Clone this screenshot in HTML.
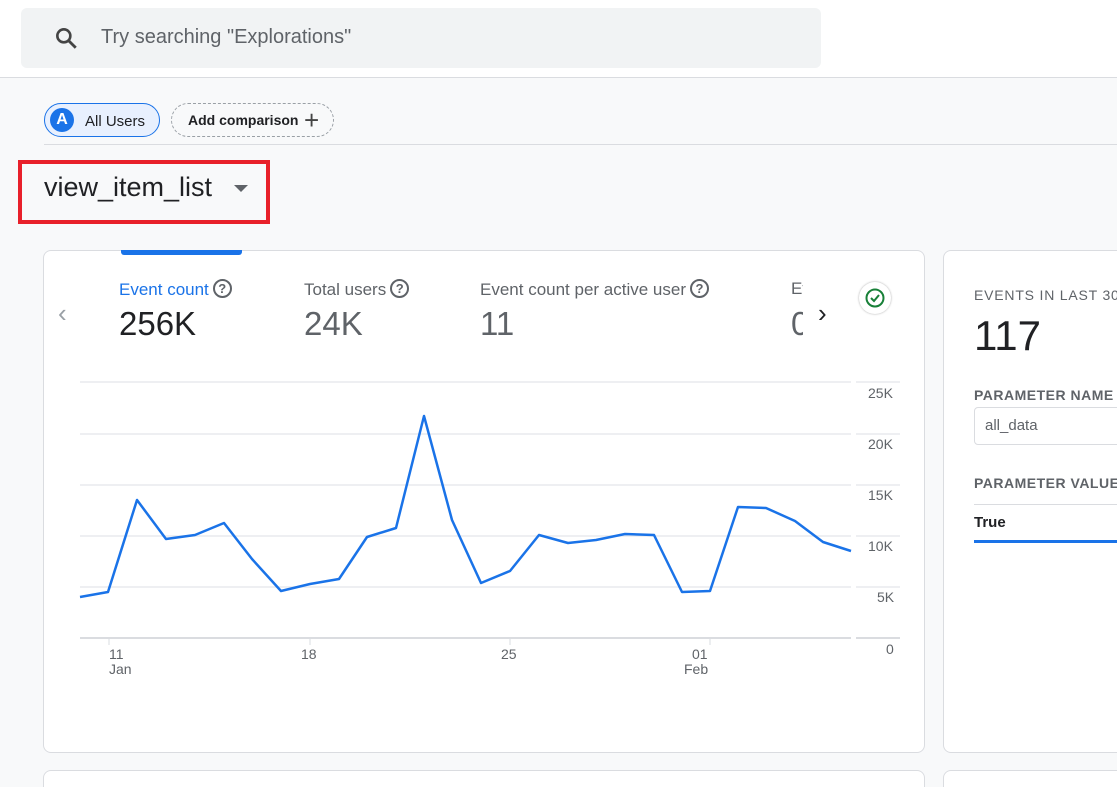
<!DOCTYPE html>
<html><head><style>
html,body{margin:0;width:1117px;height:787px;overflow:hidden}
body{background:#f8f9fa;font-family:"Liberation Sans",Arial,sans-serif;position:relative}
.a{position:absolute}
.q{display:inline-block;width:15px;height:15px;border:2px solid #5f6368;border-radius:50%;font-size:13px;line-height:15px;text-align:center;color:#5f6368;vertical-align:2px;margin-left:4px;font-weight:bold}
</style></head><body>
<div class="a" style="left:0;top:0;width:1117px;height:77px;background:#fff;border-bottom:1px solid #dadce0"></div>
<div class="a" style="left:21px;top:8px;width:800px;height:60px;background:#f1f3f4;border-radius:6px"></div>
<svg class="a" style="left:53px;top:25px" width="26" height="26" viewBox="0 0 24 24"><circle cx="10" cy="10" r="6" fill="none" stroke="#444" stroke-width="2.4"/><line x1="14.5" y1="14.5" x2="21" y2="21" stroke="#444" stroke-width="2.6"/></svg>
<div class="a" style="left:101px;top:26px;font-size:20px;color:#5f6368">Try searching "Explorations"</div>
<div class="a" style="left:44px;top:103px;width:114px;height:32px;border:1px solid #1a73e8;border-radius:17px;background:#e8f0fe"></div>
<div class="a" style="left:50px;top:108px;width:24px;height:24px;border-radius:50%;background:#1a73e8;color:#fff;font-size:16px;font-weight:bold;text-align:center;line-height:24px">A</div>
<div class="a" style="left:85px;top:113px;font-size:15px;color:#202124">All Users</div>
<div class="a" style="left:171px;top:103px;width:161px;height:32px;border:1px dashed #9aa0a6;border-radius:17px"></div>
<div class="a" style="left:188px;top:112px;font-size:14px;font-weight:bold;color:#202124">Add comparison</div>
<div class="a" style="left:304px;top:107px;font-size:26px;color:#444;line-height:26px">+</div>
<div class="a" style="left:44px;top:144px;width:1073px;height:1px;background:#dadce0"></div>
<div class="a" style="left:18px;top:160px;width:244px;height:56px;border:4px solid #e8202a"></div>
<div class="a" style="left:44px;top:172px;font-size:27px;color:#202124">view_item_list</div>
<div class="a" style="left:234px;top:185px;width:0;height:0;border-left:7px solid transparent;border-right:7px solid transparent;border-top:7px solid #5f6368"></div>
<div class="a" style="left:43px;top:250px;width:880px;height:501px;background:#fff;border:1px solid #dadce0;border-radius:8px"></div>
<div class="a" style="left:121px;top:250px;width:121px;height:5px;background:#1a73e8;border-radius:0 0 3px 3px"></div>
<div class="a" style="left:943px;top:250px;width:180px;height:501px;background:#fff;border:1px solid #dadce0;border-radius:8px"></div>
<div class="a" style="left:43px;top:770px;width:880px;height:30px;background:#fff;border:1px solid #dadce0;border-radius:8px"></div>
<div class="a" style="left:943px;top:770px;width:180px;height:30px;background:#fff;border:1px solid #dadce0;border-radius:8px"></div>
<div class="a" style="left:58px;top:298px;font-size:26px;color:#9aa0a6">‹</div>
<div class="a" style="left:119px;top:279px;font-size:17px;color:#1a73e8;white-space:nowrap">Event count<span class="q">?</span></div>
<div class="a" style="left:119px;top:305px;font-size:33px;color:#202124">256K</div>
<div class="a" style="left:304px;top:279px;font-size:17px;color:#5f6368;white-space:nowrap">Total users<span class="q">?</span></div>
<div class="a" style="left:304px;top:305px;font-size:33px;color:#5f6368">24K</div>
<div class="a" style="left:480px;top:279px;font-size:17px;color:#5f6368;white-space:nowrap">Event count per active user<span class="q">?</span></div>
<div class="a" style="left:480px;top:305px;font-size:33px;color:#5f6368">11</div>
<div class="a" style="left:791px;top:279px;width:12px;overflow:hidden;font-size:17px;color:#5f6368">Ev</div>
<div class="a" style="left:791px;top:305px;width:12px;overflow:hidden;font-size:33px;color:#5f6368">0</div>
<div class="a" style="left:818px;top:298px;font-size:26px;color:#202124">›</div>
<div class="a" style="left:859px;top:282px;width:32px;height:32px;border-radius:50%;background:#fff;box-shadow:0 0 2px #aaa"></div>
<svg class="a" style="left:865px;top:288px" width="20" height="20"><circle cx="10" cy="10" r="8.5" fill="none" stroke="#188038" stroke-width="2"/><path d="M6 10l3 3 5-6" fill="none" stroke="#188038" stroke-width="2"/></svg>
<svg class="a" style="left:0;top:0" width="1117" height="787">
<g stroke="#e8eaed" stroke-width="1.5">
<line x1="80" y1="382" x2="851" y2="382"/><line x1="80" y1="434" x2="851" y2="434"/><line x1="80" y1="485" x2="851" y2="485"/><line x1="80" y1="536" x2="851" y2="536"/><line x1="80" y1="587" x2="851" y2="587"/>
<line x1="856" y1="382" x2="900" y2="382"/><line x1="856" y1="434" x2="900" y2="434"/><line x1="856" y1="485" x2="900" y2="485"/><line x1="856" y1="536" x2="900" y2="536"/><line x1="856" y1="587" x2="900" y2="587"/>
</g>
<line x1="80" y1="638" x2="851" y2="638" stroke="#dadce0" stroke-width="2"/>
<line x1="856" y1="638" x2="900" y2="638" stroke="#dadce0" stroke-width="2"/>
<g stroke="#dadce0"><line x1="109" y1="638" x2="109" y2="645"/><line x1="310" y1="638" x2="310" y2="645"/><line x1="510" y1="638" x2="510" y2="645"/><line x1="710" y1="638" x2="710" y2="645"/></g>
<polyline fill="none" stroke="#1a73e8" stroke-width="2.5" stroke-linejoin="round" points="80,597 108,592 137,500 166,539 195,535 224,523 252,559 281,591 310,584 339,579 367,537 396,528 424,416 452,520 481,583 510,571 539,535 568,543 596,540 625,534 654,535 682,592 710,591 738,507 766,508 795,521 823,542 851,551"/>
<g font-size="14" fill="#5f6368" font-family="Liberation Sans,Arial,sans-serif">
<text x="868" y="398">25K</text><text x="868" y="449">20K</text><text x="868" y="500">15K</text><text x="868" y="551">10K</text><text x="877" y="602">5K</text><text x="886" y="654">0</text>
<text x="109" y="659">11</text><text x="109" y="674">Jan</text><text x="301" y="659">18</text><text x="501" y="659">25</text><text x="692" y="659">01</text><text x="684" y="674">Feb</text>
</g>
</svg>
<div class="a" style="left:974px;top:287px;width:143px;overflow:hidden;font-size:14px;color:#5f6368;letter-spacing:0.8px;white-space:nowrap">EVENTS IN LAST 30 MINUTES</div>
<div class="a" style="left:974px;top:312px;font-size:42px;color:#202124">117</div>
<div class="a" style="left:974px;top:387px;width:143px;overflow:hidden;font-size:14px;font-weight:bold;color:#5f6368;letter-spacing:0.5px;white-space:nowrap">PARAMETER NAME</div>
<div class="a" style="left:974px;top:407px;width:160px;height:36px;border:1px solid #dadce0;border-radius:4px"></div>
<div class="a" style="left:985px;top:417px;font-size:15px;color:#5f6368">all_data</div>
<div class="a" style="left:974px;top:475px;width:143px;overflow:hidden;font-size:14px;font-weight:bold;color:#5f6368;letter-spacing:0.5px;white-space:nowrap">PARAMETER VALUE</div>
<div class="a" style="left:974px;top:504px;width:143px;height:1px;background:#dadce0"></div>
<div class="a" style="left:974px;top:514px;font-size:15px;font-weight:bold;color:#202124">True</div>
<div class="a" style="left:974px;top:540px;width:143px;height:3px;background:#1a73e8"></div>
</body></html>
